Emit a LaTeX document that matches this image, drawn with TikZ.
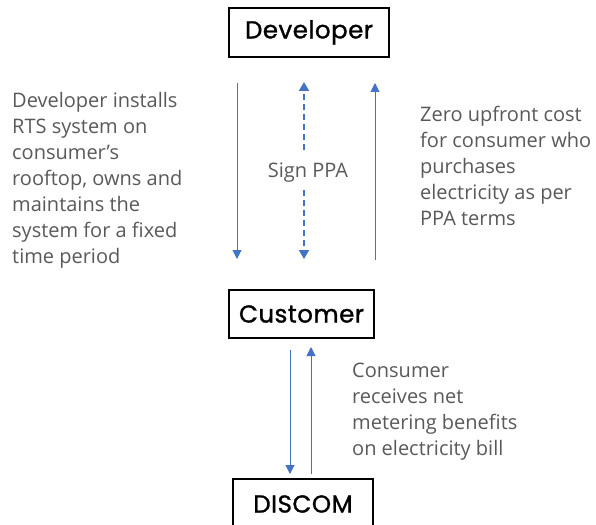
\documentclass[tikz,border=0pt]{standalone}
\usepackage{fontspec}
\setmainfont{Open Sans}
\newfontfamily\boxfont{Poppins}[FakeBold=1.2,LetterSpace=2]
\usetikzlibrary{arrows.meta}
\definecolor{arrblue}{HTML}{4472C4}
\definecolor{txtgray}{HTML}{595959}
\begin{document}
\begin{tikzpicture}[x=1pt,y=-1pt,
  boxnode/.style={draw=black,line width=1.3pt,font=\boxfont\fontsize{24.5}{28}\selectfont,inner sep=0pt},
  desc/.style={text=txtgray,font=\fontsize{20}{26}\selectfont,align=left,inner sep=0pt},
  arr/.style={draw=arrblue,line width=1pt,-{Triangle[width=9pt,length=9pt]}},
  darr/.style={draw=arrblue,line width=2.4pt,dash pattern=on 6pt off 4pt,-{Triangle[width=10pt,length=9pt]}}]
\useasboundingbox (0,0) rectangle (596,524);
\node[boxnode,minimum width=160pt,minimum height=49pt] (dev) at (309,32.5) {Developer};
\node[boxnode,minimum width=145pt,minimum height=48pt] (cust) at (301.5,314) {Customer};
\node[boxnode,minimum width=140pt,minimum height=50pt] (disc) at (303,504) {DISCOM};
\node[desc,anchor=north west] (ltxt) at (12,92) {Developer installs\\RTS system on\\consumer’s\\rooftop, owns and\\maintains the\\system for a fixed\\time period};
\node[desc,anchor=north west] (rtxt) at (420,105.5) {Zero upfront cost\\for consumer who\\purchases\\electricity as per\\PPA terms};
\node[desc,anchor=north west] (btxt) at (352,362.5) {Consumer\\receives net\\metering benefits\\on electricity bill};
\node[desc] (sign) at (308,173) {Sign PPA};
\coordinate (a1s) at (237,83);
\coordinate (a1e) at (237,259);
\coordinate (a3s) at (375,260);
\coordinate (a3e) at (375,83);
\coordinate (a4s) at (290,350);
\coordinate (a4e) at (290,474);
\coordinate (a5s) at (311,474);
\coordinate (a5e) at (311,347);
\coordinate (d1s) at (304,150);
\coordinate (d1e) at (304,82);
\coordinate (d2s) at (304,190);
\coordinate (d2e) at (304,259);
\draw[arr] (a1s) -- (a1e);
\draw[arr] (a3s) -- (a3e);
\draw[arr] (a4s) -- (a4e);
\draw[arr] (a5s) -- (a5e);
\draw[darr] (d1s) -- (d1e);
\draw[darr] (d2s) -- (d2e);
\end{tikzpicture}
\end{document}
